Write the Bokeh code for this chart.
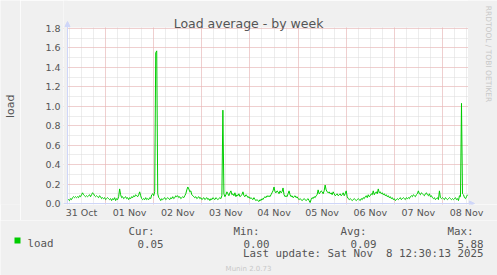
import math
from bokeh.plotting import figure
from bokeh.layouts import column, row
from bokeh.models import (FixedTicker, Grid, Label, Arrow, NormalHead, BoxAnnotation,
                          PrintfTickFormatter, ColumnDataSource, Range1d)
from bokeh.embed import file_html
from bokeh.resources import INLINE

# ---------------- data ----------------
start_hour = 5.0      # hours after 31 Oct 00:00
step_hours = 0.5      # 30-minute samples
load = [
    0.03, 0.04, 0.03, 0.05, 0.04, 0.06, 0.07, 0.06, 0.07, 0.06,
    0.07, 0.06, 0.08, 0.07, 0.09, 0.11, 0.09, 0.08, 0.07, 0.08,
    0.07, 0.08, 0.09, 0.07, 0.09, 0.11, 0.10, 0.08, 0.07, 0.08,
    0.07, 0.06, 0.08, 0.07, 0.05, 0.06, 0.05, 0.06, 0.04, 0.05,
    0.06, 0.05, 0.04, 0.05, 0.03, 0.05, 0.04, 0.06, 0.03, 0.05,
    0.04, 0.07, 0.15, 0.09, 0.06, 0.07, 0.05, 0.06, 0.07, 0.05,
    0.06, 0.04, 0.06, 0.05, 0.07, 0.06, 0.08, 0.07, 0.09, 0.08,
    0.07, 0.09, 0.12, 0.08, 0.05, 0.04, 0.05, 0.04, 0.06, 0.04,
    0.05, 0.04, 0.06, 0.05, 0.09, 0.10, 0.08, 0.12, 1.55, 1.57,
    0.10, 0.06, 0.05, 0.03, 0.05, 0.04, 0.05, 0.06, 0.04, 0.05,
    0.06, 0.05, 0.04, 0.06, 0.05, 0.07, 0.05, 0.06, 0.08, 0.07,
    0.08, 0.06, 0.07, 0.05, 0.06, 0.07, 0.06, 0.08, 0.10, 0.14,
    0.17, 0.15, 0.12, 0.13, 0.09, 0.08, 0.07, 0.06, 0.07, 0.05,
    0.06, 0.07, 0.05, 0.06, 0.04, 0.05, 0.06, 0.04, 0.05, 0.06,
    0.04, 0.05, 0.03, 0.05, 0.04, 0.06, 0.05, 0.04, 0.06, 0.05,
    0.04, 0.05, 0.06, 0.05, 0.08, 0.96, 0.10, 0.07, 0.09, 0.12,
    0.10, 0.08, 0.11, 0.13, 0.09, 0.10, 0.08, 0.11, 0.07, 0.09,
    0.08, 0.10, 0.07, 0.08, 0.09, 0.12, 0.08, 0.07, 0.09, 0.08,
    0.06, 0.07, 0.05, 0.06, 0.05, 0.04, 0.06, 0.04, 0.03, 0.04,
    0.03, 0.02, 0.04, 0.03, 0.05, 0.04, 0.06, 0.07, 0.06, 0.08,
    0.07, 0.08, 0.07, 0.09, 0.11, 0.13, 0.17, 0.12, 0.11, 0.13,
    0.12, 0.10, 0.13, 0.11, 0.12, 0.16, 0.09, 0.07, 0.08, 0.07,
    0.10, 0.13, 0.09, 0.07, 0.08, 0.06, 0.07, 0.08, 0.06, 0.07,
    0.05, 0.04, 0.05, 0.04, 0.03, 0.04, 0.05, 0.04, 0.03, 0.04,
    0.05, 0.03, 0.01, 0.04, 0.06, 0.05, 0.07, 0.06, 0.08, 0.09,
    0.14, 0.10, 0.11, 0.13, 0.12, 0.10, 0.13, 0.19, 0.14, 0.12,
    0.11, 0.12, 0.10, 0.11, 0.09, 0.12, 0.10, 0.08, 0.09, 0.10,
    0.08, 0.09, 0.10, 0.08, 0.09, 0.11, 0.08, 0.10, 0.13, 0.07,
    0.05, 0.04, 0.05, 0.04, 0.03, 0.04, 0.05, 0.04, 0.03, 0.04,
    0.05, 0.04, 0.03, 0.05, 0.04, 0.06, 0.05, 0.07, 0.08, 0.06,
    0.09, 0.07, 0.08, 0.10, 0.09, 0.13, 0.09, 0.11, 0.12, 0.10,
    0.15, 0.11, 0.12, 0.10, 0.11, 0.09, 0.10, 0.08, 0.09, 0.07,
    0.08, 0.06, 0.07, 0.05, 0.06, 0.04, 0.05, 0.03, 0.04, 0.05,
    0.04, 0.05, 0.06, 0.04, 0.05, 0.06, 0.05, 0.04, 0.06, 0.05,
    0.06, 0.05, 0.07, 0.08, 0.07, 0.09, 0.08, 0.07, 0.09, 0.10,
    0.13, 0.10, 0.09, 0.11, 0.10, 0.09, 0.08, 0.10, 0.11, 0.09,
    0.08, 0.10, 0.07, 0.08, 0.06, 0.05, 0.06, 0.04, 0.05, 0.06,
    0.04, 0.13, 0.06, 0.05, 0.06, 0.05, 0.04, 0.06, 0.05, 0.04,
    0.05, 0.06, 0.05, 0.04, 0.05, 0.04, 0.05, 0.06, 0.04, 0.05,
    0.03, 0.08, 0.07, 1.03, 0.10, 0.09, 0.06, 0.05, 0.07, 0.09,
]
day_labels = ["31 Oct", "01 Nov", "02 Nov", "03 Nov", "04 Nov",
              "05 Nov", "06 Nov", "07 Nov", "08 Nov"]
y_ticks = [0.0, 0.2, 0.4, 0.6, 0.8, 1.0, 1.2, 1.4, 1.6, 1.8]
y_minor = [0.1, 0.3, 0.5, 0.7, 0.9, 1.1, 1.3, 1.5, 1.7]
y_top = 1.8
series_name = "load"
stat_cur, stat_min, stat_avg, stat_max = "0.05", "0.00", "0.09", "5.88"
title_text = "Load average - by week"
last_update = "Last update: Sat Nov  8 12:30:13 2025"
version_text = "Munin 2.0.73"
side_text = "RRDTOOL / TOBI OETIKER"

# ---------------- layout constants (page pixels) ----------------
W, H = 497, 275
STRIP_W = 20                  # left strip holding the unit label
TOP_H = 220                   # height of strip + main chart
PX0, PX1 = 67, 467            # page x of first / last sample
PY0, PYT = 203, 28            # page y of value 0 / y_top
FL, FR, FT, FB = 63, 497, 0, 204   # main frame edges (page)

BG = "#F0F0F0"
FONT = "#555555"
AXIS_C = "#CFD6F8"
MINOR_C = "#DADADA"
MAJOR_C = "#F0B0B0"

hours = [start_hour + i * step_hours for i in range(len(load))]
ppx = (PX1 - PX0) / (hours[-1] - hours[0])
ppy = (PY0 - PYT) / y_top
src = ColumnDataSource(dict(x=hours, y=load))

# ---------------- main chart ----------------
p = figure(width=W - STRIP_W, height=TOP_H, title=None,
           x_range=Range1d(hours[0] - (PX0 - FL) / ppx, hours[-1] + (FR - PX1) / ppx),
           y_range=Range1d(-(FB - PY0) / ppy, (PY0 - FT) / ppy),
           output_backend="svg", toolbar_location=None,
           min_border_left=FL - STRIP_W, min_border_right=0, min_border_top=0,
           min_border_bottom=TOP_H - FB,
           background_fill_color="#FFFFFF", border_fill_color=BG,
           outline_line_color=None)
p.xgrid.visible = False
p.ygrid.visible = False

noon_ticks = [12 + 24 * k for k in range(len(day_labels))]
midnights = [24 * k for k in range(1, len(day_labels))]
six_hours = [6 * k for k in range(1, 35)]

def add_grid(dim, ticks, color):
    p.add_layout(Grid(dimension=dim, ticker=FixedTicker(ticks=ticks),
                      grid_line_color=color, grid_line_dash="1 1", grid_line_width=1))

add_grid(0, six_hours, MINOR_C)
add_grid(1, y_minor + y_ticks, MINOR_C)
add_grid(0, midnights, MAJOR_C)
add_grid(1, y_ticks[1:], MAJOR_C)

# grey margins around the white canvas area (inside the frame)
for kw in (dict(right=hours[0]), dict(left=hours[-1] + 0.5 / ppx),
           dict(bottom=y_top + 1 / ppy)):
    p.add_layout(BoxAnnotation(fill_color=BG, fill_alpha=1.0, line_color=None,
                               level="underlay", **kw))

p.line("x", "y", source=src, line_color="#00CC00", line_width=1)

xa = p.xaxis[0]
xa.ticker = FixedTicker(ticks=noon_ticks)
xa.major_label_overrides = {t: lab for t, lab in zip(noon_ticks, day_labels)}
ya = p.yaxis[0]
ya.ticker = FixedTicker(ticks=y_ticks)
ya.formatter = PrintfTickFormatter(format="%.1f")
for ax in (xa, ya):
    ax.axis_line_color = None
    ax.major_tick_line_color = None
    ax.minor_tick_line_color = None
    ax.major_tick_out = 0
    ax.major_tick_in = 0
    ax.minor_tick_out = 0
    ax.minor_tick_in = 0
    ax.major_label_text_font = "DejaVu Sans"
    ax.major_label_text_font_size = "9.5px"
    ax.major_label_text_color = FONT
xa.major_label_standoff = 2
ya.major_label_standoff = 3

# axis lines with arrow heads (rrdtool style)
p.add_layout(Arrow(end=NormalHead(size=5, fill_color=AXIS_C, line_color=AXIS_C),
                   x_start=hours[0], y_start=-(FB - PY0) / ppy,
                   x_end=hours[0], y_end=(PY0 - 21) / ppy,
                   line_color=AXIS_C, line_width=1))
p.add_layout(Arrow(end=NormalHead(size=5, fill_color=AXIS_C, line_color=AXIS_C),
                   x_start=hours[0] - 4 / ppx, y_start=0,
                   x_end=hours[-1] + 7 / ppx, y_end=0,
                   line_color=AXIS_C, line_width=1))

def main_lab(text, px, py, size, color=FONT, align="left", baseline="alphabetic", angle=0.0):
    p.add_layout(Label(x=px - FL, y=FB - py, x_units="screen", y_units="screen",
                       text=text, text_font="DejaVu Sans", text_font_size=size,
                       text_color=color, text_align=align, text_baseline=baseline,
                       angle=angle))

main_lab(title_text, 248, 23, "12.5px", align="center")
main_lab(side_text, 487.5, 53.5, "7.5px", color="#C8C8C8", align="center",
         baseline="middle", angle=-math.pi / 2)

# ---------------- canvas helper figures ----------------
def canvas(w, h, y0):
    f = figure(width=w, height=h, title=None, x_range=Range1d(0, w),
               y_range=Range1d(y0 + h, y0), x_axis_location=None, y_axis_location=None,
               output_backend="svg", toolbar_location=None, min_border=0,
               background_fill_color=BG, border_fill_color=BG, outline_line_color=None)
    f.grid.visible = False
    return f

left = canvas(STRIP_W, TOP_H, 0)
left.add_layout(Label(x=10, y=114, text=series_name, text_font="DejaVu Sans",
                      text_font_size="11px", text_color=FONT, text_align="center",
                      text_baseline="middle", angle=math.pi / 2))

foot = canvas(W, H - TOP_H, TOP_H)
MONO = "DejaVu Sans Mono"
MONO_SIZE = "10.8px"

def foot_lab(text, px, py, size=MONO_SIZE, font=MONO, color=FONT, align="left"):
    # keep runs of spaces visible in SVG output
    shown = text.replace("  ", "\u00a0 ")
    foot.add_layout(Label(x=px, y=py, text=shown, text_font=font, text_font_size=size,
                          text_color=color, text_align=align, text_baseline="alphabetic"))

foot.add_layout(BoxAnnotation(left=14, right=20, top=237, bottom=243,
                              fill_color="#00CC00", fill_alpha=1.0, line_color=None))
foot_lab(series_name, 27, 243)
foot_lab("Cur:", 128, 231)
foot_lab(stat_cur, 163, 243, align="right")
foot_lab("Min:", 233, 231)
foot_lab(stat_min, 269, 243, align="right")
foot_lab("Avg:", 340, 231)
foot_lab(stat_avg, 376, 243, align="right")
foot_lab("Max:", 447, 231)
foot_lab(stat_max, 483, 243, align="right")
foot_lab(last_update, 483, 253, align="right")
foot_lab(version_text, 248, 268, size="7px", font="DejaVu Sans", color="#C8C8C8",
         align="center")

page = column(row(left, p, spacing=0), foot, spacing=0)
open("out.html", "w").write(file_html(page, INLINE))
